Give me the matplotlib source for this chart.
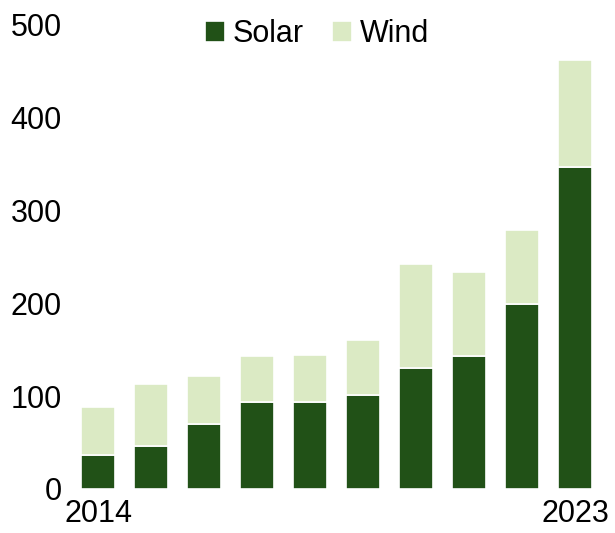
import numpy as np
import matplotlib
matplotlib.use('Agg')
import matplotlib.pyplot as plt

plt.rcParams['font.family'] = ['Liberation Sans', 'DejaVu Sans']

# 光伏 / 风电 年度新增装机
years = ['2014', '2015', '2016', '2017', '2018', '2019', '2020', '2021', '2022', '2023']
solar = [37, 46, 70, 94, 94, 101, 130, 143, 199, 347]
wind = [51, 67, 52, 49, 50, 60, 112, 91, 80, 115]
tick_labels = ['2014', '', '', '', '', '', '', '', '', '2023']

dark = '#215117'
light = '#dbeac4'

fig = plt.figure(figsize=(6.15, 5.33), dpi=100)
ax = fig.add_axes([71.5/615, 44/533, 530/615, 464/533])

x = np.arange(len(years))
ax.bar(x, solar, width=0.64, color=dark, edgecolor='white', linewidth=1.2, label='Solar')
ax.bar(x, wind, width=0.64, bottom=solar, color=light, edgecolor='white', linewidth=1.2, label='Wind')

ax.set_xlim(-0.5, 9.5)
ax.set_ylim(0, 500)
ax.set_yticks([0, 100, 200, 300, 400, 500])
ax.set_xticks(x)
ax.set_xticklabels(tick_labels)
ax.tick_params(axis='y', length=0, pad=7, labelsize=22)
ax.tick_params(axis='x', length=0, pad=7, labelsize=22)
for s in ax.spines.values():
    s.set_visible(False)

fig.legend(loc='center', bbox_to_anchor=(317/615, 1 - 34/533), ncol=2, frameon=False,
           fontsize=22, handlelength=0.68, handleheight=0.68, handletextpad=0.25,
           columnspacing=0.9, borderpad=0, borderaxespad=0)

fig.savefig('out.png', dpi=100)
